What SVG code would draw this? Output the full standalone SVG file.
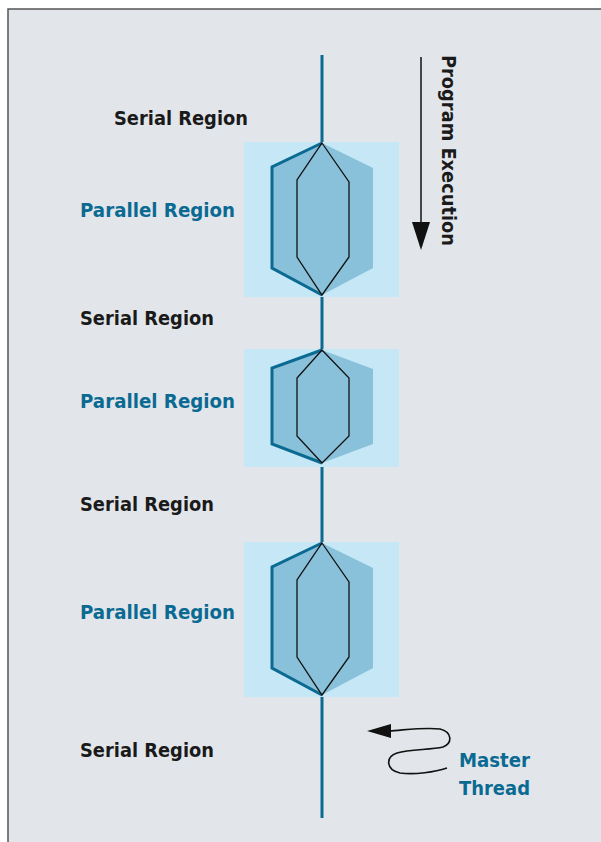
<svg xmlns="http://www.w3.org/2000/svg" width="601" height="842" viewBox="0 0 601 842">
<style>
.bg{fill:#c6e8f6}
.outer{fill:#89c1da}
.outl{fill:none;stroke:#0a6a92;stroke-width:3;stroke-linejoin:miter}
.inner{fill:none;stroke:#111;stroke-width:1.3}
.lbl{font-family:"DejaVu Sans","Liberation Sans",Arial,sans-serif;font-weight:bold;font-size:20px}
.ser{fill:#1a1a1a}
.par{fill:#0a6a92}
</style>
<rect x="8" y="9" width="600" height="840" fill="#e2e6eb" stroke="#555" stroke-width="1.5"/>
<g id="connectors">
<line x1="322" y1="55" x2="322" y2="818" stroke="#0a6a92" stroke-width="3"/>
<line x1="421" y1="57" x2="421" y2="225" stroke="#111" stroke-width="1.5"/>
<polygon points="412,222 430,222 421,250" fill="#111"/>
<path d="M389,731 C405,730 425,727 440,729 C452,732 453,743 443,747 C430,750 410,749 397,753 C385,757 386,770 400,773 C415,775 435,772 447,768" fill="none" stroke="#111" stroke-width="1.6"/>
<polygon points="367,731 391,724 391,738" fill="#111"/>
</g>
<g id="parallel1">
<rect class="bg" x="244" y="142" width="155" height="155"/>
<polygon class="outer" points="322,143 373,168 373,268 322,295 272,268 272,167"/>
<polyline class="outl" points="322,143 272,167 272,268 322,295"/>
<polygon class="inner" points="322,143 349,182 349,257 322,295 297,257 297,180"/>
</g>
<g id="parallel2">
<rect class="bg" x="244" y="349" width="155" height="118"/>
<polygon class="outer" points="322,350 373,369 373,444 322,463 272,444 272,368"/>
<polyline class="outl" points="322,350 272,368 272,444 322,463"/>
<polygon class="inner" points="322,350 349,378 349,436 322,463 297,436 297,378"/>
</g>
<g id="parallel3">
<rect class="bg" x="244" y="542" width="155" height="155"/>
<polygon class="outer" points="322,543 373,568 373,668 322,695 272,668 272,567"/>
<polyline class="outl" points="322,543 272,567 272,668 322,695"/>
<polygon class="inner" points="322,543 349,582 349,657 322,695 297,657 297,580"/>
</g>
<g id="labels">
<text class="lbl ser" x="114" y="125" textLength="134" lengthAdjust="spacingAndGlyphs">Serial Region</text>
<text class="lbl par" x="80" y="217" textLength="155" lengthAdjust="spacingAndGlyphs">Parallel Region</text>
<text class="lbl ser" x="80" y="325" textLength="134" lengthAdjust="spacingAndGlyphs">Serial Region</text>
<text class="lbl par" x="80" y="408" textLength="155" lengthAdjust="spacingAndGlyphs">Parallel Region</text>
<text class="lbl ser" x="80" y="511" textLength="134" lengthAdjust="spacingAndGlyphs">Serial Region</text>
<text class="lbl par" x="80" y="619" textLength="155" lengthAdjust="spacingAndGlyphs">Parallel Region</text>
<text class="lbl ser" x="80" y="757" textLength="134" lengthAdjust="spacingAndGlyphs">Serial Region</text>
<text class="lbl par" x="459" y="767" textLength="71" lengthAdjust="spacingAndGlyphs">Master</text>
<text class="lbl par" x="459" y="795" textLength="71" lengthAdjust="spacingAndGlyphs">Thread</text>
<text class="lbl ser" transform="translate(442,55) rotate(90)" x="0" y="0" textLength="191" lengthAdjust="spacingAndGlyphs">Program Execution</text>
</g>
</svg>
